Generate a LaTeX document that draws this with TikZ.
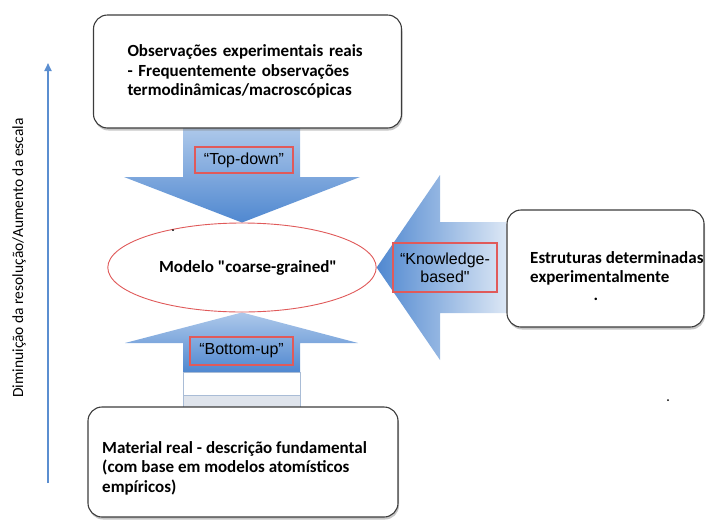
\documentclass[tikz,border=0pt]{standalone}
\usepackage{fontspec}
\setmainfont{Carlito}[Ligatures=TeXOff]
\newfontfamily\labfont{Liberation Sans}[Ligatures=TeXOff]
\usetikzlibrary{arrows.meta,shadows,shapes.geometric,calc}

\definecolor{boxline}{HTML}{3C3C3C}
\definecolor{redline}{HTML}{E05A5A}
\definecolor{bluelight}{HTML}{ADC8EA}
\definecolor{bluedark}{HTML}{5088D0}
\definecolor{bluepale}{HTML}{DCE7F5}
\definecolor{axisblue}{HTML}{5B8ED0}
\definecolor{bandline}{HTML}{A9BCD6}
\definecolor{bandgray}{HTML}{DFE4EC}

\pgfdeclarelayer{arrowlayer}
\pgfsetlayers{arrowlayer,main}

\tikzset{
  infobox/.style={draw=boxline, line width=1.1pt, fill=white, rounded corners=14pt,
    drop shadow={shadow xshift=1pt, shadow yshift=-2.5pt, opacity=0.45}},
  boxtext/.style={font=\fontsize{17}{19.5}\selectfont\bfseries, align=left, inner sep=0pt},
  tag/.style={draw=redline, line width=1.3pt, font=\labfont\fontsize{16}{18}\selectfont,
    align=center, inner sep=0pt},
  model/.style={ellipse, draw=redline, line width=0.9pt, fill=white, inner sep=0pt},
  axis/.style={draw=axisblue, line width=1.8pt, -{Triangle[length=8pt,width=7pt]}},
}

\begin{document}
\begin{tikzpicture}[x=1pt,y=-1pt]
\useasboundingbox (0,0) rectangle (707,520);

% --- boxes and central model -------------------------------------------------
\node[infobox, minimum width=308pt, minimum height=113pt, boxtext,
      text width=240pt, align=left] (obs) at (247.5,71.5)
  {Observações experimentais reais\\- Frequentemente observações\\termodinâmicas/macroscópicas};
\node[infobox, minimum width=310pt, minimum height=110pt] (mat) at (243,462) {};
\node[infobox, minimum width=197pt, minimum height=117pt] (exp) at (605.5,268.5) {};
\node[model, minimum width=260pt, minimum height=89pt] (cg) at (242,267.5)
  {\fontsize{17}{19.5}\selectfont\bfseries\hspace{12pt}Modelo "coarse-grained"};

\node[boxtext, anchor=north west] (mattext) at (102,441)
  {Material real - descrição fundamental\\(com base em modelos atomísticos\\empíricos)};
\node[boxtext, anchor=north west] (exptext) at (530,251)
  {Estruturas determinadas\\experimentalmente};
\node[boxtext] (expdot) at (596,299) {.};

% --- block arrows, kept under the boxes and the ellipse ---------------------
\begin{pgfonlayer}{arrowlayer}
% top-down
\shade[top color=bluelight, bottom color=bluedark]
  (183,128) -- (300,128) -- (300,177) -- (360,177) -- (cg.north)
  -- (124,177) -- (183,177) -- cycle;
% bottom-up
\shade[top color=bluelight, bottom color=bluedark]
  (183,372) -- (183,343) -- (125,343) -- (cg.south) -- (358,343)
  -- (300,343) -- (300,372) -- cycle;
\draw[bandline, fill=white, line width=0.6pt] (183,372) rectangle (300,407);
\draw[bandline, fill=bandgray, line width=0.6pt] (183,395) rectangle (300,407);
% knowledge-based
\shade[left color=bluedark, right color=bluepale]
  (cg.east) -- (440,175) -- (440,222) -- (exp.west |- 0,222)
  -- (exp.west |- 0,313) -- (440,313) -- (440,360) -- cycle;
\end{pgfonlayer}

% --- arrow labels ------------------------------------------------------------
\node[tag, minimum width=98pt, minimum height=26pt] (td) at (244,160) {“Top-down”};
\node[tag, minimum width=103pt, minimum height=28pt] (bu) at (241.5,351) {“Bottom-up”};
\node[tag, minimum width=104pt, minimum height=49pt] (kb) at (445,267.5)
  {“Knowledge-\\based"};

% --- scale axis --------------------------------------------------------------
\coordinate (axbot) at (48,483);
\coordinate (axtop) at (48,63);
\draw[axis] (axbot) -- (axtop);
\node[rotate=90, font=\fontsize{15.5}{18}\selectfont] (axlabel) at (19,258)
  {Diminuição da resolução/Aumento da escala};

% small specks
\fill (173,230) circle (1pt);
\fill (668,400) circle (1pt);
\end{tikzpicture}
\end{document}
